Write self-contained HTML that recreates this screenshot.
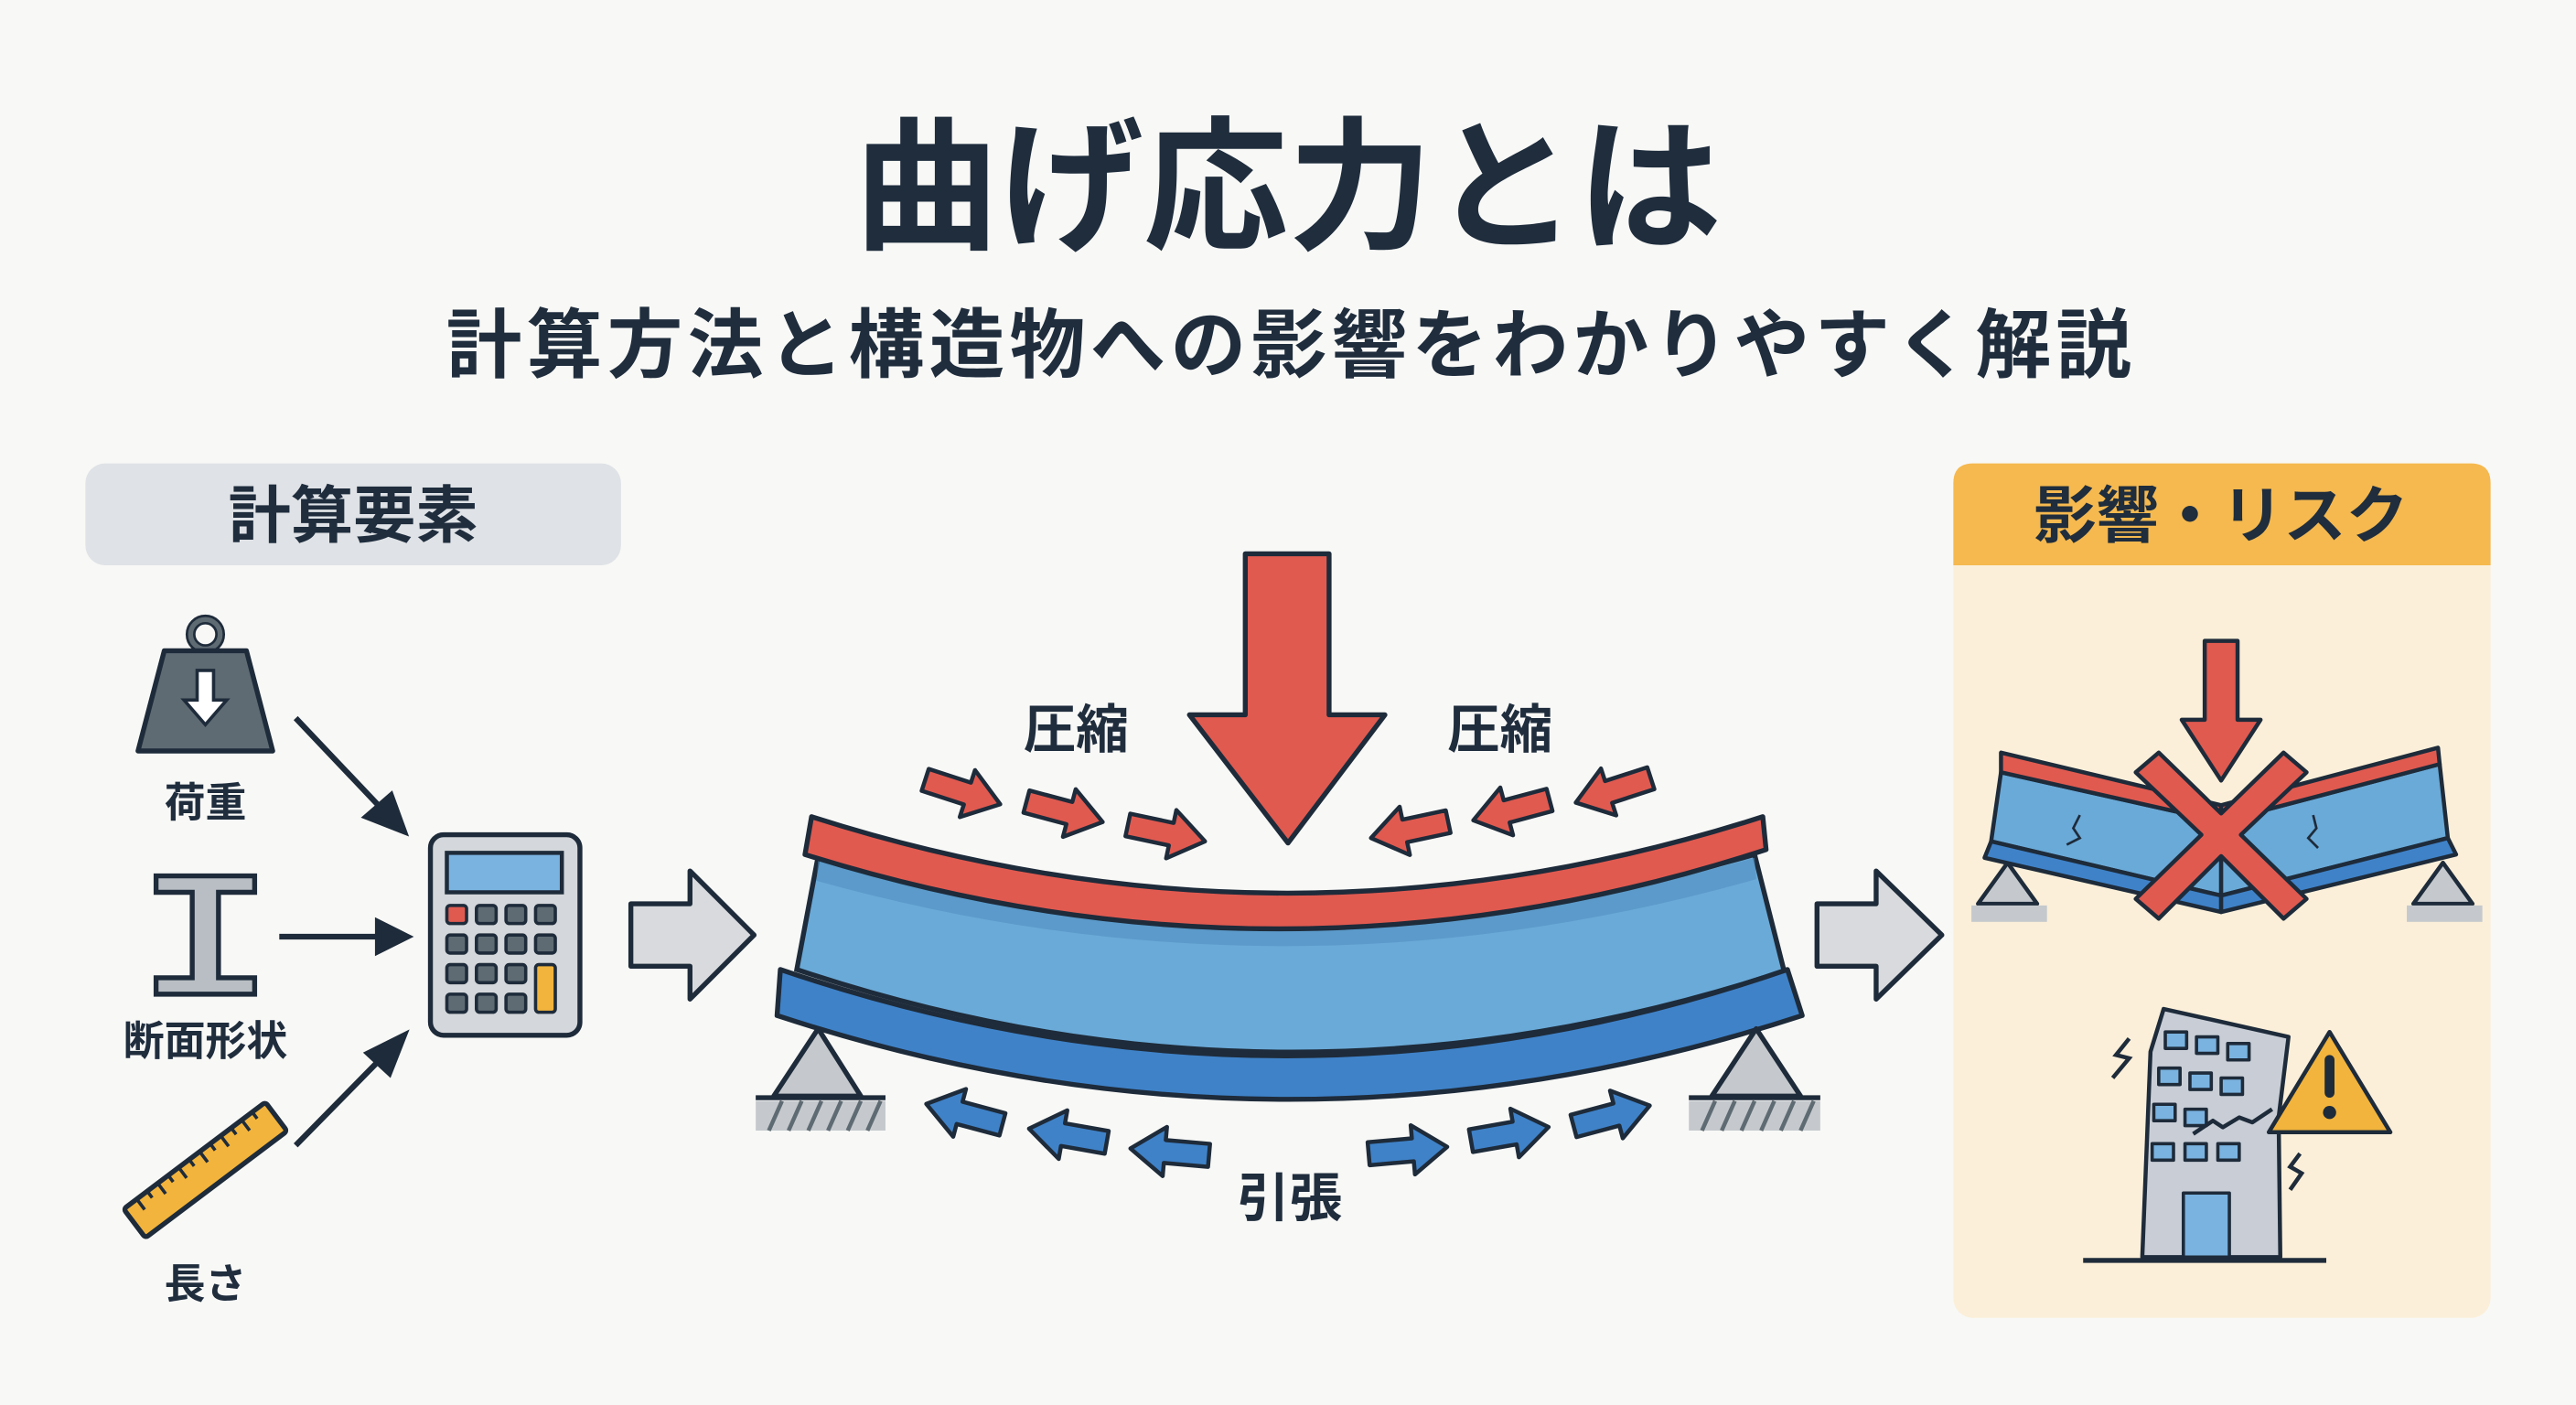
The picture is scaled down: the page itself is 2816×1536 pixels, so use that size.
<!DOCTYPE html>
<html><head><meta charset="utf-8"><style>
html,body{margin:0;padding:0;background:#f8f8f6;}
svg{display:block}
text{font-family:"Liberation Sans","Noto Sans CJK JP",sans-serif;font-weight:700;fill:#1f2d3d;text-anchor:middle}
</style></head><body>
<svg width="2816" height="1536" viewBox="0 0 1568 855" preserveAspectRatio="none" xmlns="http://www.w3.org/2000/svg">
<defs>
<path id="sa" d="M-24,-7 L3,-7 L3,-15 L24,0 L3,15 L3,7 L-24,7 Z" stroke="#1e2b3a" stroke-width="2.5" stroke-linejoin="round"/>
</defs>
<rect width="1568" height="855" fill="#f8f8f6"/>
<text x="784" y="145" font-size="88">曲げ応力とは</text>
<text x="786" y="226" font-size="46" letter-spacing="3">計算方法と構造物への影響をわかりやすく解説</text>

<!-- left header -->
<rect x="52" y="282" width="326" height="62" rx="12" fill="#dfe2e6"/>
<text x="215" y="327" font-size="38">計算要素</text>

<!-- weight -->
<circle cx="125" cy="386" r="9" fill="none" stroke="#1e2b3a" stroke-width="6"/>
<circle cx="125" cy="386" r="9" fill="none" stroke="#5f6b73" stroke-width="3"/>
<path d="M100,396 L150,396 L166,457 L84,457 Z" fill="#5f6b73" stroke="#1e2b3a" stroke-width="3" stroke-linejoin="round"/>
<path d="M120,408 L130,408 L130,426 L138,426 L125,441 L112,426 L120,426 Z" fill="#fff" stroke="#1e2b3a" stroke-width="2"/>
<text x="125" y="497" font-size="25">荷重</text>
<!-- I beam -->
<path d="M95,533 L155,533 L155,543 L133,543 L133,595 L155,595 L155,605 L95,605 L95,595 L117,595 L117,543 L95,543 Z" fill="#b9bec4" stroke="#1e2b3a" stroke-width="3"/>
<text x="125" y="642" font-size="25">断面形状</text>
<!-- ruler -->
<g transform="translate(125,712) rotate(-37)">
<rect x="-54" y="-11" width="108" height="22" rx="2" fill="#f2b43c" stroke="#1e2b3a" stroke-width="3"/>
<path d="M-44,-11v8M-36,-11v5M-28,-11v8M-20,-11v5M-12,-11v8M-4,-11v5M4,-11v8M12,-11v5M20,-11v8M28,-11v5M36,-11v8M44,-11v5" stroke="#1e2b3a" stroke-width="2"/>
</g>
<text x="125" y="790" font-size="25">長さ</text>
<!-- thin arrows -->
<g stroke="#1e2b3a" stroke-width="3.5" fill="#1e2b3a">
<line x1="180" y1="437" x2="235" y2="495"/><path d="M246,506 L223,497 L238,484 Z"/>
<line x1="170" y1="570" x2="232" y2="570"/><path d="M248,570 L230,561 L230,579 Z"/>
<line x1="180" y1="697" x2="235" y2="641"/><path d="M246,630 L237,653 L224,641 Z"/>
</g>
<!-- calculator -->
<rect x="262" y="508" width="91" height="122" rx="8" fill="#d4d7db" stroke="#1e2b3a" stroke-width="3"/>
<rect x="272" y="519" width="70" height="24" fill="#7ab3e0" stroke="#1e2b3a" stroke-width="2.5"/>
<g stroke="#1e2b3a" stroke-width="2" fill="#5f6b73">
<rect x="272" y="551" width="12" height="11" rx="2" fill="#e05a50"/><rect x="290" y="551" width="12" height="11" rx="2"/><rect x="308" y="551" width="12" height="11" rx="2"/><rect x="326" y="551" width="12" height="11" rx="2"/>
<rect x="272" y="569" width="12" height="11" rx="2"/><rect x="290" y="569" width="12" height="11" rx="2"/><rect x="308" y="569" width="12" height="11" rx="2"/><rect x="326" y="569" width="12" height="11" rx="2"/>
<rect x="272" y="587" width="12" height="11" rx="2"/><rect x="290" y="587" width="12" height="11" rx="2"/><rect x="308" y="587" width="12" height="11" rx="2"/><rect x="326" y="587" width="12" height="29" rx="2" fill="#f2b43c"/>
<rect x="272" y="605" width="12" height="11" rx="2"/><rect x="290" y="605" width="12" height="11" rx="2"/><rect x="308" y="605" width="12" height="11" rx="2"/>
</g>
<!-- hollow arrows -->
<path d="M384,550 L420,550 L420,530 L459,569 L420,608 L420,588 L384,588 Z" fill="#d8dadd" stroke="#1e2b3a" stroke-width="3" stroke-linejoin="round"/>
<path d="M1106,550 L1142,550 L1142,530 L1182,569 L1142,608 L1142,588 L1106,588 Z" fill="#d8dadd" stroke="#1e2b3a" stroke-width="3" stroke-linejoin="round"/>

<!-- main beam -->
<path d="M498,521 Q784,600 1068,520 L1086,591 Q784,690 485,590 Z" fill="#6aaad8" stroke="#1e2b3a" stroke-width="3"/>
<path d="M498,523 Q784,602 1068,522 L1069,535 Q784,616 497,536 Z" fill="#4f8cc0" opacity="0.55"/>
<path d="M494,497 Q784,590 1073,497 L1075,517 Q784,612 490,520 Z" fill="#e05a50" stroke="#1e2b3a" stroke-width="3" stroke-linejoin="round"/>
<path d="M475,590 Q784,695 1088,590 L1097,618 Q784,720 473,618 Z" fill="#3f82c8" stroke="#1e2b3a" stroke-width="3" stroke-linejoin="round"/>
<!-- supports -->
<g stroke="#1e2b3a" stroke-width="3" stroke-linejoin="round">
<path d="M498,626 L524,667 L471,667 Z" fill="#c5c9cd"/>
<path d="M1069,626 L1096,667 L1042,667 Z" fill="#c5c9cd"/>
<line x1="460" y1="668" x2="539" y2="668"/><line x1="1028" y1="668" x2="1108" y2="668"/>
</g>
<rect x="460" y="670" width="79" height="18" fill="#c5c9cd"/>
<rect x="1028" y="670" width="80" height="18" fill="#c5c9cd"/>
<g stroke="#5f6b73" stroke-width="2.5">
<path d="M468,688l8,-18M480,688l8,-18M492,688l8,-18M504,688l8,-18M516,688l8,-18M528,688l8,-18"/>
<path d="M1036,688l8,-18M1048,688l8,-18M1060,688l8,-18M1072,688l8,-18M1084,688l8,-18M1096,688l8,-18"/>
</g>
<!-- big arrow -->
<path d="M758,337 L809,337 L809,435 L843,435 L784,513 L724,435 L758,435 Z" fill="#e05a50" stroke="#1e2b3a" stroke-width="3" stroke-linejoin="round"/>
<text x="655" y="455" font-size="32">圧縮</text>
<text x="913" y="455" font-size="32">圧縮</text>
<!-- compression arrows -->
<g fill="#e05a50">
<use href="#sa" transform="translate(586,482) rotate(18)"/>
<use href="#sa" transform="translate(648,494) rotate(15)"/>
<use href="#sa" transform="translate(710,507) rotate(12)"/>
<use href="#sa" transform="translate(858,505) rotate(168)"/>
<use href="#sa" transform="translate(920,493) rotate(165)"/>
<use href="#sa" transform="translate(982,481) rotate(162)"/>
</g>
<!-- tension arrows -->
<g fill="#3f82c8">
<use href="#sa" transform="translate(587,678) rotate(195)"/>
<use href="#sa" transform="translate(650,691) rotate(190)"/>
<use href="#sa" transform="translate(712,701) rotate(185)"/>
<use href="#sa" transform="translate(857,700) rotate(-5)"/>
<use href="#sa" transform="translate(919,690) rotate(-10)"/>
<use href="#sa" transform="translate(981,679) rotate(-15)"/>
</g>
<text x="785" y="740" font-size="32">引張</text>

<!-- right panel -->
<rect x="1189" y="282" width="327" height="520" rx="12" fill="#fbefd9"/>
<path d="M1201,282 L1504,282 Q1516,282 1516,294 L1516,344 L1189,344 L1189,294 Q1189,282 1201,282 Z" fill="#f5b94f"/>
<text x="1352" y="327" font-size="38">影響・リスク</text>
<!-- broken beam -->
<g stroke="#1e2b3a" stroke-width="2.5" stroke-linejoin="round">
<path d="M1222,525 L1240,550 L1204,550 Z" fill="#c5c9cd"/>
<path d="M1487,525 L1505,550 L1469,550 Z" fill="#c5c9cd"/>
</g>
<rect x="1200" y="551" width="46" height="10" fill="#c5c9cd"/>
<rect x="1465" y="551" width="46" height="10" fill="#c5c9cd"/>
<g stroke="#1e2b3a" stroke-width="2.5" stroke-linejoin="round">
<path d="M1218,470 L1352,500 L1352,545 L1212,512 Z" fill="#6aaad8"/>
<path d="M1352,500 L1485,465 L1490,510 L1352,545 Z" fill="#6aaad8"/>
<path d="M1212,512 L1352,545 L1352,555 L1208,522 Z" fill="#3f82c8"/>
<path d="M1352,545 L1490,510 L1495,520 L1352,555 Z" fill="#3f82c8"/>
<path d="M1218,458 L1352,490 L1352,500 L1218,470 Z" fill="#e05a50"/>
<path d="M1352,490 L1484,455 L1485,465 L1352,500 Z" fill="#e05a50"/>
<path d="M1342,390 L1362,390 L1362,438 L1376,438 L1352,475 L1328,438 L1342,438 Z" fill="#e05a50"/>
<path d="M1300,470 L1314,458 L1352,495 L1390,458 L1404,470 L1364,508 L1404,547 L1390,559 L1352,521 L1314,559 L1300,547 L1340,508 Z" fill="#e05a50"/>
</g>
<path d="M1266,496l-4,8 4,6 -8,4M1408,496l2,8 -5,6 6,6" stroke="#1e2b3a" stroke-width="1.5" fill="none"/>
<!-- building -->
<g stroke="#1e2b3a" stroke-width="2.5" stroke-linejoin="round">
<path d="M1304,765 L1309,640 L1317,614 L1393,631 L1387,680 L1388,765 Z" fill="#c9ced6"/>
<g fill="#7ab3e0" stroke-width="2">
<rect x="1318" y="628" width="13" height="10"/><rect x="1337" y="631" width="13" height="10"/><rect x="1356" y="635" width="13" height="10"/>
<rect x="1314" y="650" width="13" height="10"/><rect x="1333" y="653" width="13" height="10"/><rect x="1352" y="656" width="13" height="10"/>
<rect x="1311" y="672" width="13" height="10"/><rect x="1330" y="675" width="13" height="10"/>
<rect x="1310" y="696" width="13" height="10"/><rect x="1330" y="696" width="13" height="10"/><rect x="1350" y="696" width="13" height="10"/>
<rect x="1329" y="726" width="28" height="39"/>
</g>
<path d="M1335,690 l12,-8 6,4 10,-6 8,3 12,-8" fill="none"/>
<path d="M1418,628 L1455,689 L1381,689 Z" fill="#f2b43c"/>
</g>
<rect x="1415" y="642" width="6" height="26" rx="3" fill="#1e2b3a"/>
<circle cx="1418" cy="677" r="4" fill="#1e2b3a"/>
<line x1="1268" y1="767" x2="1416" y2="767" stroke="#1e2b3a" stroke-width="3"/>
<path d="M1296,632 l-8,10 8,2 -10,12M1400,702 l-6,8 7,4 -7,10" stroke="#1e2b3a" stroke-width="2.5" fill="none"/>
</svg>
</body></html>
